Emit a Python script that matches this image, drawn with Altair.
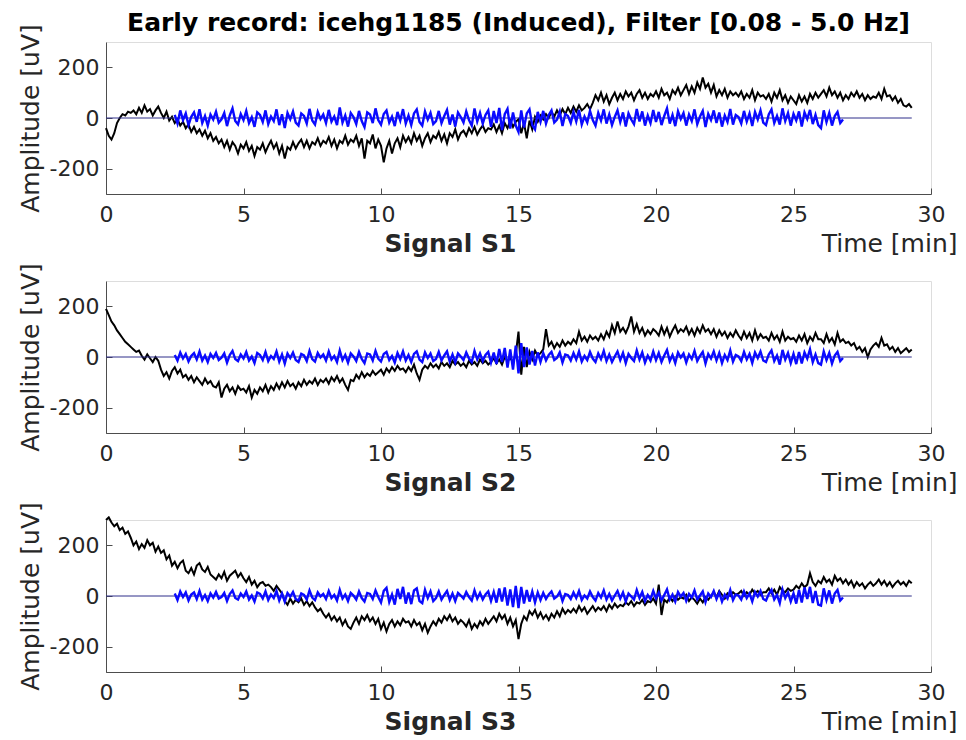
import altair as alt
import pandas as pd

STEP = 0.1
BLUE_START = 2.5
FLAT_START, FLAT_END, FLAT_LEVEL = 0.0, 29.3, 0

s1_black = [
    -40, -70, -85, -60, -20, 0, 15, 10, 25, 20,
    30, 15, 40, 20, 50, 25, 35, 10, 30, 45,
    20, 0, 25, -10, 5, -20, -5, -30, -15, -40,
    -25, -55, -35, -60, -45, -70, -50, -80, -60, -90,
    -75, -100, -85, -115, -90, -125, -95, -110, -140, -105,
    -120, -95, -130, -110, -150, -115, -125, -100, -135, -110,
    -90, -120, -100, -140, -110, -160, -115, -125, -95, -120,
    -100, -85, -115, -90, -120, -95, -105, -80, -110, -90,
    -100, -75, -110, -85, -120, -90, -100, -70, -105, -85,
    -95, -70, -110, -80, -160, -90, -100, -65, -120, -85,
    -110, -175, -120, -90, -140, -100, -80, -115, -70, -95,
    -75, -100, -60, -90, -70, -110, -80, -60, -95, -70,
    -80, -55, -90, -65, -100, -60, -75, -45, -85, -60,
    -50, -70, -40, -60, -35, -65, -45, -30, -55, -40,
    -45, -25, -55, -30, -60, -20, -40, -10, -35, -15,
    -5, -60, -20, -80, -10, -45, 5, -15, 10, -5,
    15, 0, 25, 5, 30, 10, 35, 15, 40, 20,
    45, 25, 50, 30, 40, 55, 35, 60, 90, 70,
    100, 65, 90, 55, 80, 100, 70, 95, 75, 105,
    85, 100, 70, 95, 110, 80, 100, 75, 95, 85,
    105, 80, 115, 90, 100, 75, 110, 95, 120, 90,
    110, 130, 95, 125, 100, 140, 115, 160, 120, 135,
    100, 130, 85, 110, 90, 115, 80, 105, 90, 100,
    85, 105, 75, 95, 80, 110, 70, 100, 85, 90,
    75, 95, 65, 100, 80, 110, 70, 90, 60, 85,
    70, 55, 90, 65, 85, 60, 95, 75, 100, 80,
    95, 110, 85, 120, 90, 105, 80, 100, 70, 90,
    75, 100, 85, 105, 80, 95, 70, 90, 75, 85,
    80, 100, 75, 115, 85, 90, 70, 85, 60, 75,
    50, 45, 55, 40,
]

s1_blue = [
    12, -22, 30, -8, 18,
    -28, 5, 22, -15, 35, -20, 8, -30, 14, -6,
    25, -18, -5, 20, -32, 10, 38, -12, -25, 16,
    -8, 28, -20, 3, -35, 22, 12, -16, 30, -24,
    6, -12, 34, -28, 15, -40, 20, -5, 26, -18,
    -30, 18, 8, -22, 36, -10, -26, 24, -4, 14,
    -20, 32, -14, 6, -28, 42, -18, 10, -34, 20,
    4, -24, 28, -12, -36, 22, 14, -20, 38, -8,
    -26, 16, 30, -18, 5, -32, 24, -10, 35, -22,
    10, -28, 18, 34, -16, -30, 26, -6, 20, -24,
    -12, 28, -20, 8, 32, -26, 14, -34, 22, 4,
    -18, 26, -8, -30, 38, -14, 20, -22, 12, 30,
    -35, 28, -20, 40, -48, 15, 36, -42, 22, -30,
    -55, 30, -38, 18, 34, -28, -45, 24, -15, 28,
    -22, 12, 30, -18, -6, 26, -32, 16, 8, -20,
    24, -14, 32, -26, 6, -18, 28, -8, -30, 20,
    -10, 34, -22, 14, -28, 4, 30, -16, 22, -34,
    18, -6, -24, 36, -14, 26, -30, 10, -20, 32,
    -16, 24, -28, 8, 38, -22, 12, -32, 26, -4,
    20, -30, 14, -12, 34, -24, 6, 28, -36, 16,
    -8, 30, -20, 22, -34, 10, -16, 36, -26, 12,
    4, -22, 28, -14, 18, -32, 24, -6, 30, -18,
    -28, 14, 34, -20, 8, -26, 38, -12, 20, -30,
    16, -10, 26, -34, 22, -4, 32, -24, 12, -28,
    -40, 30, -16, 20, -30, 8, 24, -20, -6,
]

s2_black = [
    190, 165, 140, 125, 105, 90, 75, 60, 50, 40,
    30, 20, 25, 5, -10, 10, -5, -20, 0, -15,
    -50, -75, -60, -85, -55, -40, -65, -50, -80, -70,
    -90, -75, -100, -80, -95, -110, -85, -105, -95, -115,
    -120, -100, -160, -125, -110, -135, -120, -145, -115, -130,
    -125, -140, -115, -160, -130, -145, -120, -135, -110, -140,
    -115, -130, -105, -125, -100, -120, -95, -115, -105, -125,
    -100, -115, -90, -110, -95, -105, -85, -110, -90, -100,
    -85, -105, -80, -95, -75, -100, -85, -110, -130, -90,
    -95, -70, -85, -60, -80, -65, -75, -55, -70, -60,
    -50, -70, -45, -60, -40, -55, -35, -50, -45, -60,
    -40, -55, -30, -65, -90, -50, -35, -45, -25, -40,
    -30, -45, -20, -35, -25, -40, -15, -30, -20, -35,
    -25, -40, -15, -30, -20, -35, -10, -25, -15, -30,
    -20, -5, -25, -10, -30, 0, -15, -5, -20, 10,
    100, -70, 40, -40, 20, -10, 25, 5, 15, 30,
    110, 45, 60, 35, 55, 40, 65, 45, 60, 50,
    70, 55, 100, 65, 80, 60, 85, 70, 80, 65,
    90, 70, 100, 80, 125, 95, 140, 100, 115, 95,
    120, 160, 100, 130, 95, 115, 85, 105, 90, 110,
    100, 85, 120, 90, 115, 80, 105, 125, 95, 110,
    100, 120, 90, 110, 85, 115, 95, 125, 100, 110,
    90, 110, 80, 105, 85, 100, 75, 95, 80, 105,
    85, 70, 100, 75, 95, 65, 105, 70, 90, 75,
    80, 65, 95, 70, 85, 60, 100, 65, 80, 70,
    75, 60, 85, 65, 90, 55, 80, 65, 95, 70,
    70, 55, 90, 60, 75, 50, 95, 60, 70, 55,
    60, 45, 55, 30, 40, 20, 35, 0, 30, 45,
    55, 40, 75, 45, 50, 30, 40, 20, 35, 15,
    25, 35, 20, 30,
]

s2_blue = [
    8, -14, 18, -6, 12,
    -18, 4, 15, -10, 22, -14, 6, -20, 12, -4,
    16, -12, -3, 14, -22, 8, 24, -8, -16, 10,
    -6, 20, -14, 2, -24, 16, 8, -12, 20, -16,
    4, -8, 22, -18, 10, -26, 14, -4, 18, -12,
    -20, 12, 6, -16, 24, -8, -18, 16, -2, 10,
    -14, 22, -10, 4, -20, 26, -12, 8, -22, 14,
    2, -16, 20, -8, -24, 14, 10, -14, 24, -6,
    -18, 12, 20, -12, 4, -22, 16, -8, 22, -14,
    8, -20, 12, 22, -10, -20, 18, -4, 14, -16,
    -8, 20, -14, 6, 22, -18, 10, -22, 14, 2,
    -12, 18, -6, -20, 24, -10, 14, -16, 8, 20,
    -22, 18, -28, 32, -20, 36, -42, 30, -50, 45,
    -65, 55, -40, 38, -30, 24, -34, 18, -20, 16,
    -14, 8, 20, -12, -4, 18, -22, 10, 6, -14,
    16, -10, 22, -18, 4, -12, 20, -6, -20, 14,
    -8, 24, -16, 10, -20, 2, 22, -12, 16, -24,
    12, -4, -16, 26, -10, 18, -22, 6, -14, 22,
    -12, 16, -20, 6, 28, -16, 8, -24, 18, -2,
    14, -22, 10, -8, 24, -16, 4, 20, -26, 12,
    -6, 22, -14, 16, -24, 8, -12, 26, -18, 8,
    2, -16, 20, -10, 12, -24, 18, -4, 22, -14,
    -20, 10, 26, -16, 6, -30, 28, -10, 16, -24,
    12, -28, 20, -26, 18, -6, 30, -20, 10, -24,
    -30, 22, -12, 16, -26, 6, 20, -16, -4,
]

s3_black = [
    300, 310, 290, 275, 285, 260, 270, 245, 255, 230,
    200, 215, 185, 205, 190, 220, 200, 210, 175, 195,
    170, 180, 145, 160, 120, 135, 110, 130, 140, 100,
    90, 110, 85, 120, 130, 105, 95, 115, 85, 75,
    65, 85, 70, 95, 60, 80, 90, 100, 75, 90,
    70, 55, 75, 45, 60, 35, 50, 55, 40, 45,
    35, 20, 40, 25, 10, -20, -35, -10, -30, -15,
    -25, -10, -35, -20, -40, -25, -45, -60, -50, -70,
    -85, -70, -95, -80, -100, -85, -115, -95, -120, -130,
    -105, -85, -110, -80, -95, -75, -100, -85, -110, -90,
    -130, -105, -140, -110, -95, -120, -100, -115, -90, -105,
    -100, -120, -95, -115, -105, -135, -110, -145, -120, -100,
    -115, -90, -105, -80, -95, -75, -100, -85, -110, -95,
    -105, -120, -95, -130, -110, -125, -100, -115, -90, -110,
    -95, -80, -100, -70, -90, -75, -110, -85, -120, -95,
    -170, -110, -80, -95, -60, -75, -55, -85, -65, -90,
    -75, -95, -70, -85, -60, -80, -50, -70, -55, -65,
    -50, -65, -40, -60, -45, -70, -55, -40, -60, -45,
    -55, -40, -60, -35, -50, -30, -45, -35, -40, -25,
    -35, -20, -40, -25, -30, -15, -35, -20, -25, -10,
    -30, 45, -75, -15, -25, -5, -20, 0, -15, -5,
    -10, 5, -20, -5, -15, -30, -10, -25, -5, -15,
    0, 15, -5, 20, 5, -10, 10, 0, 15, 5,
    10, 20, 0, 15, 5, 25, 10, 20, 5, 15,
    15, 30, 10, 25, 5, 35, 20, 15, 30, 20,
    25, 40, 30, 50, 35, 45, 90, 55, 40, 60,
    50, 75, 55, 65, 45, 80, 60, 70, 50, 65,
    45, 60, 35, 55, 40, 50, 30, 45, 55, 40,
    50, 65, 45, 60, 40, 55, 35, 50, 60, 45,
    55, 40, 60, 50,
]

s3_blue = [
    10, -16, 18, -4, 14,
    -18, 6, 14, -12, 20, -14, 4, -20, 10, -6,
    16, -10, -4, 12, -20, 8, 22, -8, -14, 10,
    -4, 18, -14, 2, -22, 14, 8, -10, 18, -16,
    6, -8, 20, -18, 10, -22, 12, -2, 16, -12,
    -18, 10, 4, -14, 22, -6, -16, 14, -2, 8,
    -12, 20, -8, 4, -18, 24, -10, 6, -20, 12,
    2, -14, 18, -8, -22, 12, 8, -12, 22, -4,
    -26, 20, 32, -24, 6, -34, 28, -12, 36, -30,
    14, -32, 22, 30, -20, -28, 24, -8, 18, -20,
    -8, 18, -14, 4, 20, -16, 10, -20, 12, 2,
    -10, 16, -4, -18, 22, -10, 12, -14, 6, 18,
    -20, 16, -26, 30, -22, 34, -38, 26, -44, 40,
    -48, 36, -30, 24, -22, 18, -26, 14, -16, 12,
    -12, 6, 18, -10, -2, 16, -20, 8, 4, -12,
    14, -8, 20, -16, 2, -10, 18, -4, -18, 12,
    -6, 22, -14, 8, -18, 2, 20, -10, 14, -22,
    10, -2, -14, 24, -8, 16, -20, 4, -12, 20,
    -10, 14, -18, 4, 26, -14, 6, -22, 16, -2,
    12, -20, 8, -6, 22, -14, 2, 18, -24, 10,
    -4, 20, -12, 14, -22, 6, -10, 24, -16, 6,
    2, -14, 18, -8, 10, -22, 16, -2, 20, -12,
    -18, 8, 24, -14, 4, -28, 26, -8, 14, -22,
    10, -30, 24, -26, 34, -12, 36, -28, 20, -34,
    -38, 30, -16, 22, -30, 10, 24, -18, -6,
]

x_ticks = [0, 5, 10, 15, 20, 25, 30]
y_ticks = [-200, 0, 200]
panel_labels = ["Signal S1", "Signal S2", "Signal S3"]
title_text = "Early record: icehg1185 (Induced), Filter [0.08 - 5.0 Hz]"

# ---------------- style ----------------
W, H = 825, 152
FONT = "DejaVu Sans"
TXT = "#262626"
AX = "#4d4d4d"
FS_TICK = 22
FS_LAB = 25
PLAIN = "'' + datum.value"   # hyphen-minus, as in the original
XT_Y = 57                     # baseline of the x-axis titles below the plot

xs = alt.Scale(domain=[0, 30], nice=False, zero=False)
ys = alt.Scale(domain=[-300, 300], nice=False, zero=False)


def frame(values, start):
    return pd.DataFrame({"t": [round(start + i * STEP, 2) for i in range(len(values))],
                         "v": values})


def panel(black, blue, label):
    dfk = frame(black, 0.0)
    dfb = frame(blue, BLUE_START)
    dff = pd.DataFrame({"t": [FLAT_START, FLAT_END], "v": [FLAT_LEVEL, FLAT_LEVEL]})

    k = alt.Chart(dfk).mark_line(color="black", strokeWidth=2).encode(
        x=alt.X("t:Q", scale=xs, axis=alt.Axis(
            orient="bottom", values=x_ticks, ticks=False, tickSize=0, grid=False,
            domainColor=AX, domainWidth=1, labelFont=FONT, labelFontSize=FS_TICK,
            labelColor=TXT, labelPadding=10, labelFlush=False, labelExpr=PLAIN,
            title=label, titleFont=FONT, titleFontSize=FS_LAB, titleFontWeight="bold",
            titleColor=TXT, titleX=344, titleY=XT_Y, titleAlign="center",
            titleBaseline="alphabetic")),
        y=alt.Y("v:Q", scale=ys, axis=alt.Axis(
            orient="left", values=y_ticks, ticks=False, tickSize=0, grid=False,
            domainColor=AX, domainWidth=1, labelFont=FONT, labelFontSize=FS_TICK,
            labelColor=TXT, labelPadding=7, labelExpr=PLAIN,
            title="Amplitude [uV]", titleFont=FONT, titleFontSize=FS_LAB,
            titleFontWeight="normal", titleColor=TXT, titleAngle=270,
            titleX=-76, titleY=H / 2, titleAlign="center", titleBaseline="middle")),
    )
    f = alt.Chart(dff).mark_line(color="#2e2e8a", strokeWidth=1).encode(
        x=alt.X("t:Q", scale=xs, axis=alt.Axis(
            orient="top", offset=-H, values=x_ticks, ticks=True, tickSize=6,
            tickColor=AX, labels=False, domain=False, grid=False,
            title="Time [min]", titleFont=FONT, titleFontSize=FS_LAB,
            titleFontWeight="normal", titleColor=TXT, titleX=851, titleY=XT_Y,
            titleAlign="right", titleBaseline="alphabetic", titleAngle=0)),
        y=alt.Y("v:Q", scale=ys, axis=alt.Axis(
            orient="right", offset=-W, values=y_ticks, ticks=True, tickSize=6,
            tickColor=AX, labels=False, domain=False, grid=False, title=None)),
    )
    b = alt.Chart(dfb).mark_line(color="#0a0aff", strokeWidth=2.4).encode(
        x=alt.X("t:Q", scale=xs, axis=None),
        y=alt.Y("v:Q", scale=ys, axis=None),
    )
    return alt.layer(k, f, b).resolve_axis(x="independent", y="independent").properties(
        width=W, height=H)


chart = alt.vconcat(
    panel(s1_black, s1_blue, panel_labels[0]),
    panel(s2_black, s2_blue, panel_labels[1]),
    panel(s3_black, s3_blue, panel_labels[2]),
    spacing=87, bounds="flush",
).properties(
    title=alt.TitleParams(title_text, font=FONT, fontSize=FS_LAB, fontWeight="bold",
                          color="black", anchor="middle", frame="group", offset=-13),
    padding={"left": 9, "top": 3, "right": 0, "bottom": 0},
).configure_view(stroke=None).configure(background="white")

chart.save("out.html", embed_options={"renderer": "svg", "actions": False})
